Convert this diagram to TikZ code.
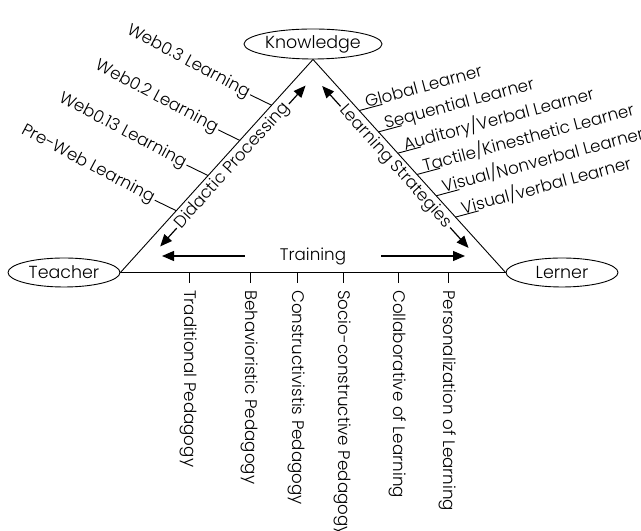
\documentclass[tikz,border=0pt]{standalone}
\usepackage{fontspec}
\setmainfont{Poppins}[UprightFont=* Light]
\usetikzlibrary{shapes.geometric,arrows.meta,calc}
\begin{document}
\begin{tikzpicture}[x=1bp,y=1bp,
  every node/.style={font=\fontsize{16.8}{19}\selectfont},
  vert/.style={draw, ellipse, inner sep=0pt, line width=0.9bp, font=\fontsize{17.5}{19}\selectfont},
  edge/.style={line width=0.9bp},
  arr/.style={line width=1.2bp, -{Triangle[length=12bp,width=10bp]}},
  lbl/.style={inner sep=0pt}]
\useasboundingbox (0,0) rectangle (641,531);
% vertices
\node[vert, minimum width=112bp, minimum height=29bp] (T) at (64,258.5) {Teacher};
\node[vert, minimum width=138bp, minimum height=30bp] (K) at (313,487) {Knowledge};
\node[vert, minimum width=112bp, minimum height=29bp] (L) at (562,258.5) {Lerner};
\draw[edge] (T.east) -- (K.south) -- (L.west) -- cycle;
% left labels
\foreach \f/\t [count=\i] in {0.215/{Web0.3 Learning}, 0.38/{Web0.2 Learning}, 0.545/{Web0.13 Learning}, 0.71/{Pre-Web Learning}} {
  \coordinate (le\i) at ($(K.south)!\f!(T.east)$);
  \node[lbl, anchor=east, rotate=-28, inner xsep=1.5bp] (lt\i) at ($(le\i)+(154:24)$) {\t};
  \draw[edge] (le\i) -- (lt\i.east);
}
% right labels
\foreach \f/\t [count=\i] in {0.24/{Global Learner}, 0.34/{Sequential Learner}, 0.44/{Auditory/Verbal Learner}, 0.54/{Tactile/Kinesthetic Learner}, 0.64/{Visual/Nonverbal Learner}, 0.74/{Visual/verbal Learner}} {
  \coordinate (re\i) at ($(K.south)!\f!(L.west)$);
  \coordinate (rf\i) at ($(re\i)+(15:24)$);
  \node[lbl, anchor=base west, rotate=15] (rt\i) at ($(re\i)+(15:8)+(105:1)$) {\t};
  \draw[edge] (re\i) -- (rf\i);
}
% didactic processing
\coordinate (d1) at ($(K.south)!0.84!(T.east)!12bp!90:(T.east)$);
\coordinate (d2) at ($(K.south)!0.085!(T.east)!12bp!90:(T.east)$);
\coordinate (dm) at ($(K.south)!0.4625!(T.east)!12bp!90:(T.east)$);
\node[lbl, rotate=47.9, inner xsep=2bp] (did) at (dm) {Didactic Processing};
\draw[arr] (did.west) -- (d1);
\draw[arr] (did.east) -- (d2);
% learning strategies
\coordinate (s1) at ($(K.south)!0.09!(L.west)!11bp!-90:(L.west)$);
\coordinate (s2) at ($(K.south)!0.85!(L.west)!11bp!-90:(L.west)$);
\coordinate (sm) at ($(K.south)!0.47!(L.west)!11bp!-90:(L.west)$);
\node[lbl, rotate=-47.9, inner xsep=2bp] (ls) at (sm) {Learning Strategies};
\draw[arr] (ls.west) -- (s1);
\draw[arr] (ls.east) -- (s2);
% training
\node[lbl, inner xsep=35bp] (tr) at (313,275) {Training};
\coordinate (t1) at (162,275);
\coordinate (t2) at (465,275);
\draw[arr] (tr.west) -- (t1);
\draw[arr] (tr.east) -- (t2);
% bottom labels
\foreach \x/\t [count=\i] in {189/{Traditional Pedagogy}, 250/{Behavioristic Pedagogy}, 297/{Constructivistis Pedagogy}, 343/{Socio-constructive Pedagogy}, 398/{Collaborative of Learning}, 448/{Personalization of Learning}} {
  \coordinate (bt\i) at (\x,258.5);
  \node[lbl, anchor=west, rotate=-90, inner xsep=7bp] (bl\i) at (\x,248) {\t};
  \draw[edge] (bt\i) -- (bl\i.west);
}
\end{tikzpicture}
\end{document}
